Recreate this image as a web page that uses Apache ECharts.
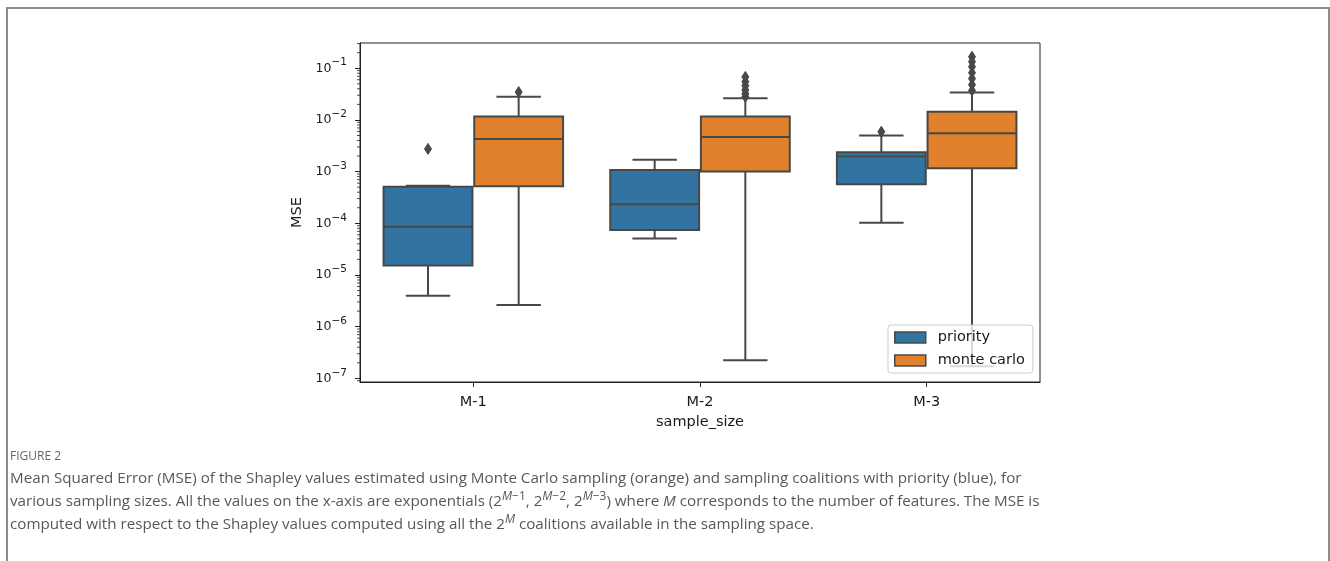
<!DOCTYPE html>
<html>
<head>
<meta charset="utf-8">
<script src="https://cdn.jsdelivr.net/npm/echarts@6/dist/echarts.min.js"></script>
<style>
  html, body { margin: 0; padding: 0; background: #fff; }
  #main { width: 1330px; height: 561px; }
</style>
</head>
<body>
<div id="main"></div>
<script>
// categories on the x axis
const categories = ['M-1', 'M-2', 'M-3'];
// box stats per category: [min, Q1, median, Q3, max]
const priorityBox = [
  [3.95e-6, 1.53e-5, 8.6e-5, 5.1e-4, 5.3e-4],
  [5.1e-5, 7.4e-5, 2.33e-4, 1.08e-3, 1.69e-3],
  [1.03e-4, 5.7e-4, 1.96e-3, 2.38e-3, 5.0e-3]
];
const monteCarloBox = [
  [2.64e-6, 5.2e-4, 4.3e-3, 0.0116, 0.028],
  [2.25e-7, 1.0e-3, 4.7e-3, 0.0116, 0.0264],
  [1.71e-7, 1.16e-3, 5.5e-3, 0.0144, 0.034]
];
// outliers: [category index, value]
const priorityOutliers = [[0, 2.75e-3], [2, 5.9e-3]];
const monteCarloOutliers = [
  [0, 0.0346],
  [1, 0.028], [1, 0.032], [1, 0.038], [1, 0.046], [1, 0.055], [1, 0.068],
  [2, 0.037], [2, 0.048], [2, 0.063], [2, 0.082], [2, 0.107], [2, 0.134], [2, 0.167]
];
// y tick values (log axis)
const yTicks = [1e-7, 1e-6, 1e-5, 1e-4, 1e-3, 1e-2, 1e-1];

const BLUE = '#3274a1';
const ORANGE = '#e1812c';
const LINE = '#484848';
const FONT = 'DejaVu Sans';
const CAP_FONT = '"Open Sans"';
const CAP_COLOR = '#585858';

let chart = echarts.init(document.getElementById('main'));

function bandOf(api, v) {
  return Math.abs(api.coord([1, v])[0] - api.coord([0, v])[0]);
}

// draws one box (seaborn style) shifted left / right inside the category
function boxRenderer(side, color) {
  return function (params, api) {
    let cat = api.value(0);
    let vals = [api.value(1), api.value(2), api.value(3), api.value(4), api.value(5)];
    let pts = vals.map(v => api.coord([cat, v]));
    let band = bandOf(api, vals[2]);
    let cx = pts[2][0] + side * band * 0.2;
    let w = band * 0.4 * 0.98;
    let lineStyle = { stroke: LINE, lineWidth: 2 };
    return {
      type: 'group',
      children: [
        { type: 'line', shape: { x1: cx, y1: pts[3][1], x2: cx, y2: pts[4][1] }, style: lineStyle },
        { type: 'line', shape: { x1: cx, y1: pts[1][1], x2: cx, y2: pts[0][1] }, style: lineStyle },
        { type: 'line', shape: { x1: cx - w / 4, y1: pts[4][1], x2: cx + w / 4, y2: pts[4][1] }, style: lineStyle },
        { type: 'line', shape: { x1: cx - w / 4, y1: pts[0][1], x2: cx + w / 4, y2: pts[0][1] }, style: lineStyle },
        {
          type: 'rect',
          shape: { x: cx - w / 2, y: pts[3][1], width: w, height: pts[1][1] - pts[3][1] },
          style: { fill: color, stroke: LINE, lineWidth: 2 }
        },
        { type: 'line', shape: { x1: cx - w / 2, y1: pts[2][1], x2: cx + w / 2, y2: pts[2][1] }, style: lineStyle }
      ]
    };
  };
}

function outlierRenderer(side) {
  return function (params, api) {
    let p = api.coord([api.value(0), api.value(1)]);
    let x = p[0] + side * bandOf(api, api.value(1)) * 0.2;
    let y = p[1];
    return {
      type: 'polygon',
      shape: { points: [[x, y - 5.5], [x + 3.5, y], [x, y + 5.5], [x - 3.5, y]] },
      style: { fill: LINE, stroke: LINE, lineWidth: 1 }
    };
  };
}

// minor ticks of the log axis at 2..9 x 10^n
function minorTickRenderer(params, api) {
  let children = [];
  for (let n = -8; n <= 0; n++) {
    for (let k = 2; k <= 9; k++) {
      let v = k * Math.pow(10, n);
      if (v < 8.5e-8 || v > 0.308) continue;
      let p = api.coord([0, v]);
      let left = p[0] - bandOf(api, v) / 2;
      children.push({
        type: 'line',
        shape: { x1: left - 3, y1: p[1], x2: left, y2: p[1] },
        style: { stroke: '#222', lineWidth: 0.8 }
      });
    }
  }
  return { type: 'group', children: children };
}

function supLabel(v) {
  let e = Math.round(Math.log10(v));
  if (Math.abs(Math.log10(v) - e) > 1e-6) return '';
  return '{b|10}{s|' + (e < 0 ? '\u2212' + (-e) : e) + '}';
}

let option = {
  animation: false,
  textStyle: { fontFamily: FONT },
  grid: {
    left: 360, right: 290, top: 43, bottom: 179,
    show: true, borderColor: '#222', borderWidth: 1
  },
  legend: {
    data: ['priority', 'monte carlo'],
    orient: 'vertical',
    left: 888, top: 325,
    padding: [5, 8, 5, 6],
    itemGap: 8,
    itemWidth: 31, itemHeight: 11,
    icon: 'rect',
    itemStyle: { borderColor: LINE, borderWidth: 1.5 },
    backgroundColor: 'rgba(255,255,255,0.8)',
    borderColor: '#cccccc', borderWidth: 1, borderRadius: 3,
    textStyle: { fontFamily: FONT, fontSize: 14.5, color: '#1a1a1a', padding: [0, 0, 0, 7] }
  },
  xAxis: {
    type: 'category',
    data: categories,
    name: 'sample_size',
    nameLocation: 'middle',
    nameGap: 33,
    nameTextStyle: { fontFamily: FONT, fontSize: 14.5, color: '#1a1a1a' },
    axisLine: { show: true, lineStyle: { color: '#222', width: 1 } },
    axisTick: { show: true, alignWithLabel: true, length: 5, lineStyle: { color: '#222' } },
    axisLabel: { fontFamily: FONT, fontSize: 14.5, color: '#1a1a1a', margin: 13 },
    splitLine: { show: false }
  },
  yAxis: {
    type: 'log',
    logBase: 10,
    min: 8.5e-8,
    max: 0.308,
    name: 'MSE',
    nameLocation: 'middle',
    nameGap: 53,
    nameRotate: 90,
    nameTextStyle: { fontFamily: FONT, fontSize: 14.5, color: '#1a1a1a' },
    axisLine: { show: true, lineStyle: { color: '#222', width: 1 } },
    axisTick: { show: true, length: 5, lineStyle: { color: '#222' }, customValues: yTicks },
    axisLabel: {
      customValues: yTicks,
      margin: 13,
      color: '#1a1a1a',
      formatter: supLabel,
      rich: {
        b: { fontFamily: FONT, fontSize: 12.5, color: '#1a1a1a' },
        s: { fontFamily: FONT, fontSize: 10.5, color: '#1a1a1a', padding: [0, 0, 11, 0] }
      }
    },
    splitLine: { show: false }
  },
  series: [
    {
      name: 'priority',
      type: 'custom',
      renderItem: boxRenderer(-1, BLUE),
      itemStyle: { color: BLUE },
      encode: { x: 0, y: [1, 2, 3, 4, 5] },
      data: priorityBox.map((b, i) => [i].concat(b)),
      z: 3
    },
    {
      name: 'monte carlo',
      type: 'custom',
      renderItem: boxRenderer(1, ORANGE),
      itemStyle: { color: ORANGE },
      encode: { x: 0, y: [1, 2, 3, 4, 5] },
      data: monteCarloBox.map((b, i) => [i].concat(b)),
      z: 3
    },
    {
      name: 'priority',
      type: 'custom',
      renderItem: outlierRenderer(-1),
      itemStyle: { color: BLUE },
      encode: { x: 0, y: 1 },
      data: priorityOutliers,
      z: 3
    },
    {
      name: 'monte carlo',
      type: 'custom',
      renderItem: outlierRenderer(1),
      itemStyle: { color: ORANGE },
      encode: { x: 0, y: 1 },
      data: monteCarloOutliers,
      z: 3
    },
    {
      name: 'minorTicks',
      type: 'custom',
      silent: true,
      renderItem: minorTickRenderer,
      encode: { x: 0, y: 1 },
      data: [[0, 1e-3]]
    }
  ],
  graphic: [
    {
      type: 'polyline',
      silent: true,
      shape: { points: [[7, 561], [7, 8], [1329, 8], [1329, 561]] },
      style: { stroke: '#8c8c8c', lineWidth: 2, fill: null }
    },
    {
      type: 'text',
      silent: true,
      style: {
        x: 10, y: 457, verticalAlign: 'middle',
        text: 'FIGURE 2',
        font: '12px ' + CAP_FONT, fill: '#666666'
      }
    },
    {
      type: 'text',
      silent: true,
      style: {
        x: 10, y: 479, verticalAlign: 'middle',
        text: 'Mean Squared Error (MSE) of the Shapley values estimated using Monte Carlo sampling (orange) and sampling coalitions with priority (blue), for',
        font: '15.2px ' + CAP_FONT, fill: CAP_COLOR
      }
    },
    {
      type: 'text',
      silent: true,
      style: {
        x: 10, y: 502, verticalAlign: 'middle',
        text: 'various sampling sizes. All the values on the x-axis are exponentials (2{si|M}{s|\u22121}, 2{si|M}{s|\u22122}, 2{si|M}{s|\u22123}) where {i|M} corresponds to the number of features. The MSE is',
        font: '15.2px ' + CAP_FONT, fill: CAP_COLOR, lineHeight: 22,
        rich: {
          s: { font: '12px ' + CAP_FONT, fill: CAP_COLOR, padding: [0, 0, 10, 0] },
          si: { font: 'italic 12px ' + CAP_FONT, fill: CAP_COLOR, padding: [0, 0, 10, 0] },
          i: { font: 'italic 15.2px ' + CAP_FONT, fill: CAP_COLOR }
        }
      }
    },
    {
      type: 'text',
      silent: true,
      style: {
        x: 10, y: 525, verticalAlign: 'middle',
        text: 'computed with respect to the Shapley values computed using all the 2{si|M} coalitions available in the sampling space.',
        font: '15.2px ' + CAP_FONT, fill: CAP_COLOR, lineHeight: 22,
        rich: {
          si: { font: 'italic 12px ' + CAP_FONT, fill: CAP_COLOR, padding: [0, 0, 10, 0] }
        }
      }
    }
  ]
};

chart.setOption(option);
</script>
</body>
</html>
